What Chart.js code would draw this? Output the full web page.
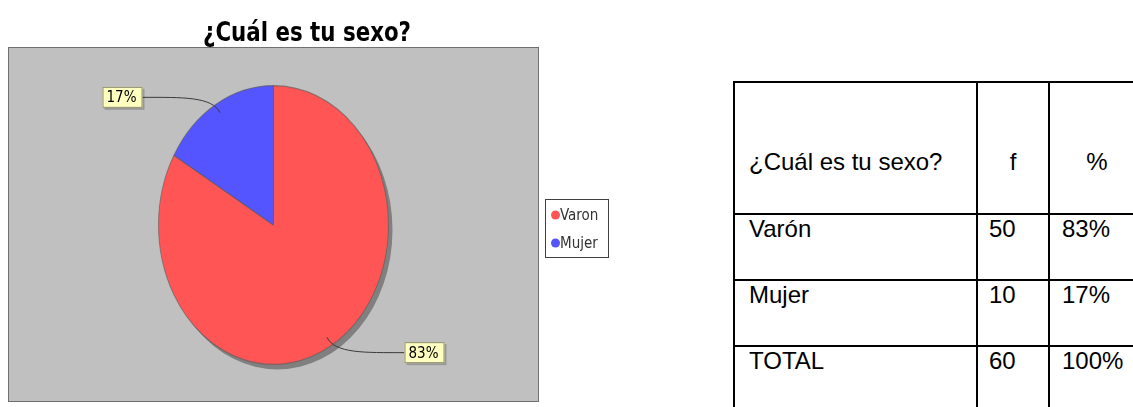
<!DOCTYPE html>
<html>
<head>
<meta charset="utf-8">
<script src="https://cdn.jsdelivr.net/npm/chart.js@4.4.0/dist/chart.umd.min.js"></script>
<style>
html, body { margin: 0; padding: 0; background: #fff; width: 1133px; height: 407px; overflow: hidden; position: relative; }
#pie { position: absolute; left: 0; top: 0; }
#tbl { position: absolute; left: 733px; top: 81px; width: 411px; border-collapse: collapse; table-layout: fixed;
       font-family: 'Liberation Sans', Arial, sans-serif; font-size: 24px; line-height: 26px; color: #000; }
#tbl td { border: 2px solid #000; padding: 0; vertical-align: top; white-space: nowrap; }
</style>
</head>
<body>
<canvas id="pie" width="620" height="407"></canvas>
<table id="tbl">
  <colgroup><col style="width:243px"><col style="width:72px"><col style="width:96px"></colgroup>
  <tbody id="tbody"></tbody>
</table>
<script>
// chart data
const chartTitle = '¿Cuál es tu sexo?';
const categories = ['Varon', 'Mujer'];
const frequencies = [50, 10];
const percentLabels = ['83%', '17%'];
const sliceColors = ['#ff5555', '#5555ff'];

// table data
const tableHeader = ['¿Cuál es tu sexo?', 'f', '%'];
const tableRows = ['Varón', 'Mujer', 'TOTAL'];
const tableF = [50, 10, 60];
const tablePct = ['83%', '17%', '100%'];

// the pie in the source is an ellipse, stretch it vertically
const Y_STRETCH = 140 / 115.5;
const SMALL_FONT = "'DejaVu Sans Condensed', 'DejaVu Sans', sans-serif";

const pieDecor = {
    id: 'pieDecor',
    beforeDraw(chart) {
        const ctx = chart.ctx;
        ctx.save();
        ctx.fillStyle = '#fff';
        ctx.fillRect(0, 0, chart.width, chart.height);
        ctx.fillStyle = '#c0c0c0';
        ctx.fillRect(8.5, 47.5, 530, 354);
        ctx.strokeStyle = '#707070';
        ctx.lineWidth = 1;
        ctx.strokeRect(8.5, 47.5, 530, 354);
        ctx.restore();
    },
    beforeDatasetsDraw(chart) {
        const arc = chart.getDatasetMeta(0).data[0];
        const { x, y, outerRadius } = arc;
        const ctx = chart.ctx;
        // shadow
        ctx.save();
        ctx.fillStyle = '#808080';
        ctx.beginPath();
        ctx.ellipse(x + 4, y + 5, outerRadius, outerRadius * Y_STRETCH, 0, 0, Math.PI * 2);
        ctx.fill();
        ctx.restore();
        ctx.save();
        ctx.translate(x, y);
        ctx.scale(1, Y_STRETCH);
        ctx.translate(-x, -y);
    },
    afterDatasetsDraw(chart) {
        const ctx = chart.ctx;
        ctx.restore();

        // slice labels with curved leaders
        const arcs = chart.getDatasetMeta(0).data;
        arcs.forEach((arc, i) => {
            const { x, y, outerRadius: r, startAngle, endAngle } = arc;
            const mid = (startAngle + endAngle) / 2;
            const c = Math.cos(mid), s = Math.sin(mid);
            const px = x + c * r * 0.93;
            const py = y + s * r * 0.93 * Y_STRETCH;
            const ly = y + s * (r * Y_STRETCH + 8);
            const left = c < 0;
            const bw = 40, bh = 21;
            const bx = left ? x - r - 16 - bw : x + r + 16;
            const edge = left ? bx + bw : bx;

            let dx = c, dy = s * Y_STRETCH;
            const len = Math.hypot(dx, dy);
            dx /= len; dy /= len;

            ctx.save();
            ctx.strokeStyle = '#3a3a3a';
            ctx.lineWidth = 1;
            ctx.beginPath();
            ctx.moveTo(edge, ly);
            ctx.bezierCurveTo(edge + (left ? 40 : -40), ly, px + dx * 18, py + dy * 18, px, py);
            ctx.stroke();

            ctx.fillStyle = 'rgba(0,0,0,0.2)';
            ctx.fillRect(bx + 2, ly - bh / 2 + 2, bw, bh);
            ctx.fillStyle = '#ffffc0';
            ctx.fillRect(bx, ly - bh / 2, bw, bh);
            ctx.strokeStyle = '#8c8c70';
            ctx.strokeRect(bx + 0.5, ly - bh / 2 + 0.5, bw - 1, bh - 1);
            ctx.fillStyle = '#000';
            ctx.font = '15px ' + SMALL_FONT;
            ctx.textBaseline = 'middle';
            ctx.textAlign = 'left';
            ctx.fillText(percentLabels[i], bx + 4, ly + 1, 30);
            ctx.restore();
        });

        // legend
        ctx.save();
        ctx.fillStyle = '#fff';
        ctx.fillRect(545, 199, 64, 59);
        ctx.strokeStyle = '#404040';
        ctx.lineWidth = 1;
        ctx.strokeRect(545.5, 199.5, 63, 58);
        ctx.font = '15px ' + SMALL_FONT;
        ctx.textBaseline = 'middle';
        ctx.textAlign = 'left';
        categories.forEach((label, i) => {
            const ly = 215 + i * 28;
            ctx.fillStyle = sliceColors[i];
            ctx.beginPath();
            ctx.arc(555.5, ly, 4.5, 0, Math.PI * 2);
            ctx.fill();
            ctx.fillStyle = '#333';
            ctx.fillText(label, 560, ly + 1, 43);
        });

        // title
        ctx.fillStyle = '#000';
        ctx.font = "bold 26px 'Liberation Sans Narrow', 'DejaVu Sans Condensed', 'DejaVu Sans', sans-serif";
        ctx.textAlign = 'center';
        ctx.textBaseline = 'alphabetic';
        ctx.fillText(chartTitle, 307, 41, 208);
        ctx.restore();
    }
};

new Chart(document.getElementById('pie'), {
    type: 'pie',
    data: {
        labels: categories,
        datasets: [{
            data: frequencies,
            backgroundColor: sliceColors,
            borderColor: 'rgba(90,90,90,0.6)',
            borderWidth: 1,
            hoverOffset: 0
        }]
    },
    options: {
        responsive: false,
        animation: false,
        devicePixelRatio: 1,
        events: [],
        layout: { padding: { left: 158, right: 231, top: 109.5, bottom: 66.5 } },
        plugins: {
            legend: { display: false },
            tooltip: { enabled: false },
            title: { display: false }
        }
    },
    plugins: [pieDecor]
});

// table
const tbody = document.getElementById('tbody');
function addRow(cells, height, padTop, styles) {
    const tr = document.createElement('tr');
    tr.style.height = height + 'px';
    cells.forEach((text, i) => {
        const td = document.createElement('td');
        td.textContent = text;
        td.style.paddingTop = padTop + 'px';
        Object.assign(td.style, styles[i]);
        tr.appendChild(td);
    });
    tbody.appendChild(tr);
}
addRow(tableHeader, 132, 66, [
    { paddingLeft: '14px' },
    { textAlign: 'center' },
    { textAlign: 'center' }
]);
tableRows.forEach((name, i) => {
    addRow([name, String(tableF[i]), tablePct[i]], i === 2 ? 80 : 66, 1, [
        { paddingLeft: '14px' },
        { paddingLeft: '11px' },
        { paddingLeft: '12px' }
    ]);
});
</script>
</body>
</html>
